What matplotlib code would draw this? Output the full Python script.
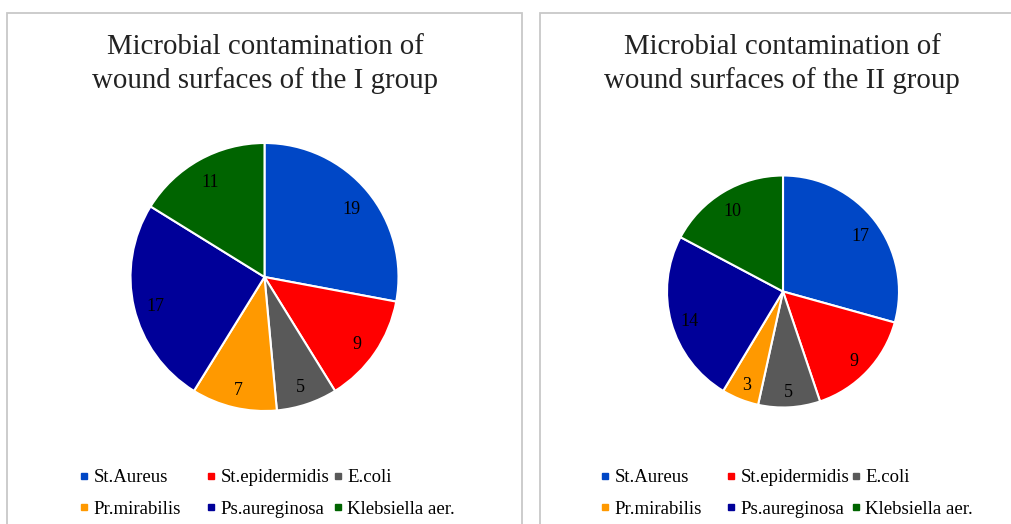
import matplotlib.pyplot as plt
import matplotlib.patches as mpatches
from matplotlib.lines import Line2D

plt.rcParams['font.family'] = ['Liberation Serif', 'DejaVu Serif']

# data
species = ['St.Aureus', 'St.epidermidis', 'E.coli',
           'Pr.mirabilis', 'Ps.aureginosa', 'Klebsiella aer.']
group1 = [19, 9, 5, 7, 17, 11]
group2 = [17, 9, 5, 3, 14, 10]
colors = ['#0047C6', '#FF0000', '#595959', '#FF9900', '#000099', '#006400']
titles = [['Microbial contamination of', 'wound surfaces of the I group'],
          ['Microbial contamination of', 'wound surfaces of the II group']]

W, H = 1012, 524
fig = plt.figure(figsize=(W / 100, H / 100), dpi=100)

def px(x0, y0, w, h):
    # pixel box (top-left origin) -> figure fraction
    return [x0 / W, 1 - (y0 + h) / H, w / W, h / H]

# panel frames
for x0, x1 in [(7, 522), (540, 1030)]:
    fig.patches.append(mpatches.Rectangle((x0 / W, -0.1), (x1 - x0) / W, 1 - 13 / H + 0.1,
                                          transform=fig.transFigure, fill=False,
                                          ec='#C8C8C8', lw=1.3))

panels = [
    dict(vals=group1, cx=264.5, cy=277, r=134, tx=265, cols=[84, 211, 338]),
    dict(vals=group2, cx=783, cy=291.5, r=116, tx=782, cols=[605, 731, 856]),
]

fs_leg = 13.5
hl = 0.5
for p, title in zip(panels, titles):
    ax = fig.add_axes(px(p['cx'] - p['r'], p['cy'] - p['r'], 2 * p['r'], 2 * p['r']))
    wedges, texts = ax.pie(p['vals'], colors=colors, startangle=90, counterclock=False,
                           labels=[str(v) for v in p['vals']], labeldistance=0.84,
                           wedgeprops=dict(edgecolor='white', linewidth=1.5),
                           textprops=dict(fontsize=13, color='black', ha='center', va='center'))
    for t in texts:
        x, y = t.get_position()
        t.set_position((x, y - 0.03))
    ax.set_xlim(-1, 1)
    ax.set_ylim(-1, 1)
    ax.set_aspect('equal')
    ax.axis('off')

    for line, yb in zip(title, [54, 88]):
        fig.text(p['tx'] / W, 1 - yb / H, line, ha='center', va='baseline',
                 fontsize=20.8, color='#222222')

    # legend: three equal-width columns, two rows
    for k, xc in enumerate(p['cols']):
        idx = [k, k + 3]
        handles = [Line2D([], [], marker='s', ls='', markersize=3.8, color=colors[i]) for i in idx]
        x0 = xc - hl * fs_leg * 100 / 72 / 2
        fig.legend(handles, [species[i] for i in idx], ncol=1, loc='upper left',
                   bbox_to_anchor=(x0 / W, 1 - 469 / H), frameon=False,
                   fontsize=fs_leg, handlelength=hl, handletextpad=0.25,
                   labelspacing=0.76, borderpad=0, borderaxespad=0)

fig.savefig('out.png', dpi=100)
